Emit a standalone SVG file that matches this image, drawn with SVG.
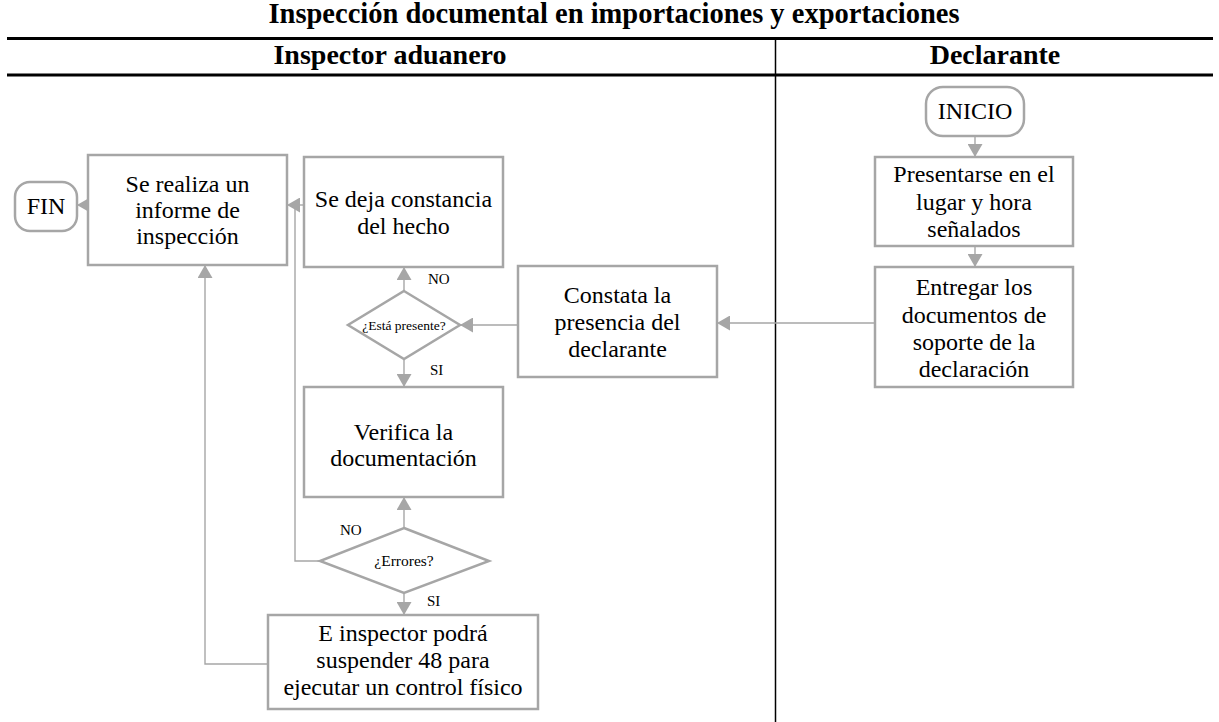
<svg xmlns="http://www.w3.org/2000/svg" width="1219" height="722" viewBox="0 0 1219 722">
<style>
text{font-family:"Liberation Serif","Times New Roman",serif;fill:#000;text-anchor:middle}
.title{font-size:28.5px;font-weight:bold}
.hdr{font-size:28px;font-weight:bold}
.t{font-size:24px}
.lbl{font-size:15px;text-anchor:start}
.box{fill:#fff;stroke:#a6a6a6;stroke-width:2.5}
.con{fill:none;stroke:#a6a6a6;stroke-width:1.4}
.rule{stroke:#000;stroke-width:2.8}
</style>
<defs>
<marker id="ah" markerUnits="userSpaceOnUse" markerWidth="13" markerHeight="15" refX="13" refY="7.5" orient="auto">
<path d="M0,0 L13,7.5 L0,15 z" fill="#a6a6a6"/>
</marker>
</defs>
<rect width="1219" height="722" fill="#fff"/>
<g id="header">
<text class="title" x="614" y="23">Inspección documental en importaciones y exportaciones</text>
<line class="rule" x1="7" y1="38.5" x2="1213" y2="38.5"/>
<text class="hdr" x="390" y="64">Inspector aduanero</text>
<text class="hdr" x="995" y="64">Declarante</text>
<line class="rule" x1="7" y1="75" x2="1213" y2="75"/>
<line x1="775.5" y1="38" x2="775.5" y2="722" stroke="#000" stroke-width="1.5"/>
</g>
<g id="connectors">
<line class="con" x1="975" y1="136" x2="975" y2="157" marker-end="url(#ah)"/>
<line class="con" x1="975" y1="246" x2="975" y2="267" marker-end="url(#ah)"/>
<line class="con" x1="875" y1="323" x2="717" y2="323" marker-end="url(#ah)"/>
<line class="con" x1="518" y1="325" x2="460" y2="325" marker-end="url(#ah)"/>
<line class="con" x1="404" y1="291" x2="404" y2="267" marker-end="url(#ah)"/>
<line class="con" x1="404" y1="359" x2="404" y2="387" marker-end="url(#ah)"/>
<line class="con" x1="404" y1="528" x2="404" y2="497" marker-end="url(#ah)"/>
<polyline class="con" points="320,561 295,561 295,205"/>
<line class="con" x1="304" y1="205" x2="287" y2="205" marker-end="url(#ah)"/>
<line class="con" x1="404" y1="593" x2="404" y2="615" marker-end="url(#ah)"/>
<polyline class="con" points="268,664 205,664 205,265" marker-end="url(#ah)"/>
<line class="con" x1="88" y1="205" x2="77" y2="205" marker-end="url(#ah)"/>
<text class="lbl" x="428" y="284">NO</text>
<text class="lbl" x="430" y="375">SI</text>
<text class="lbl" x="340" y="535">NO</text>
<text class="lbl" x="427" y="606">SI</text>
</g>
<g id="inicio">
<rect class="box" x="926" y="87" width="98" height="49" rx="17"/>
<text class="t" x="975" y="119">INICIO</text>
</g>
<g id="presentarse">
<rect class="box" x="875" y="157" width="198" height="89"/>
<text class="t"><tspan x="974" y="182">Presentarse en el</tspan><tspan x="974" y="209.5">lugar y hora</tspan><tspan x="974" y="237">señalados</tspan></text>
</g>
<g id="entregar">
<rect class="box" x="875" y="267" width="198" height="120"/>
<text class="t"><tspan x="974" y="295">Entregar los</tspan><tspan x="974" y="322.5">documentos de</tspan><tspan x="974" y="349.5">soporte de la</tspan><tspan x="974" y="377">declaración</tspan></text>
</g>
<g id="constata">
<rect class="box" x="518" y="266" width="199" height="111"/>
<text class="t"><tspan x="617.5" y="303">Constata la</tspan><tspan x="617.5" y="330">presencia del</tspan><tspan x="617.5" y="357">declarante</tspan></text>
</g>
<g id="esta-presente">
<polygon class="box" points="404,291 460,325 404,359 348,325"/>
<text x="404" y="330" style="font-size:13.5px">¿Está presente?</text>
</g>
<g id="se-deja">
<rect class="box" x="304" y="157" width="199" height="110"/>
<text class="t"><tspan x="403.5" y="207">Se deja constancia</tspan><tspan x="403.5" y="234">del hecho</tspan></text>
</g>
<g id="verifica">
<rect class="box" x="304" y="387" width="199" height="110"/>
<text class="t"><tspan x="403.5" y="440">Verifica la</tspan><tspan x="403.5" y="466">documentación</tspan></text>
</g>
<g id="errores">
<polygon class="box" points="404,528 489,561 404,593 320,561"/>
<text x="404" y="566" style="font-size:15.5px">¿Errores?</text>
</g>
<g id="e-inspector">
<rect class="box" x="268" y="615" width="270" height="94"/>
<text class="t"><tspan x="403" y="641">E inspector podrá</tspan><tspan x="403" y="668">suspender 48 para</tspan><tspan x="403" y="695">ejecutar un control físico</tspan></text>
</g>
<g id="se-realiza">
<rect class="box" x="88" y="155" width="199" height="110"/>
<text class="t"><tspan x="187.5" y="192">Se realiza un</tspan><tspan x="187.5" y="218">informe de</tspan><tspan x="187.5" y="244">inspección</tspan></text>
</g>
<g id="fin">
<rect class="box" x="15" y="182" width="62" height="49" rx="15"/>
<text class="t" x="46" y="214">FIN</text>
</g>
</svg>
